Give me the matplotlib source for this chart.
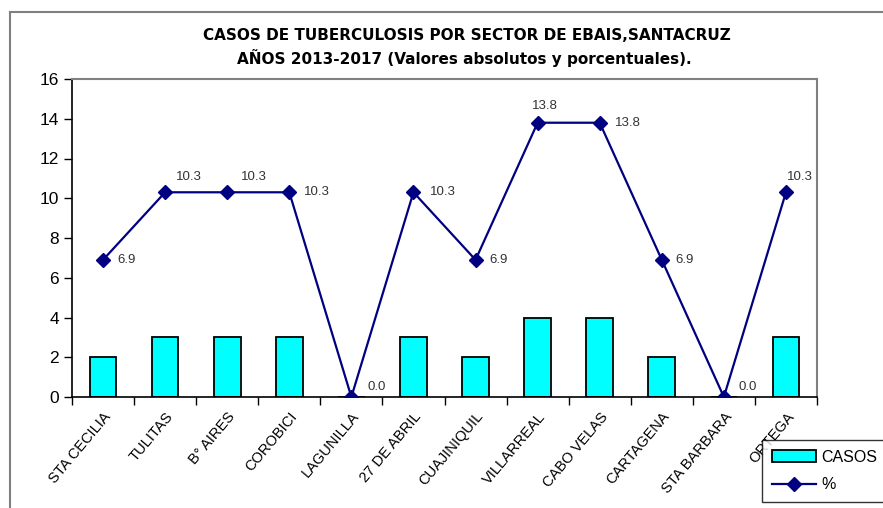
import matplotlib
matplotlib.use("Agg")
import matplotlib.pyplot as plt
from matplotlib.lines import Line2D
from matplotlib.patches import Patch
import numpy as np

plt.rcParams['font.family'] = ['Liberation Sans', 'DejaVu Sans']

# casos de tuberculosis por sector de EBAIS, Santa Cruz 2013-2017
sectores = ["STA CECILIA", "TULITAS", "B° AIRES", "COROBICI", "LAGUNILLA",
            "27 DE ABRIL", "CUAJINIQUIL", "VILLARREAL", "CABO VELAS",
            "CARTAGENA", "STA BARBARA", "ORTEGA"]
casos = [2, 3, 3, 3, 0, 3, 2, 4, 4, 2, 0, 3]
porcentaje = [6.9, 10.3, 10.3, 10.3, 0.0, 10.3, 6.9, 13.8, 13.8, 6.9, 0.0, 10.3]

# where each % label sits relative to its marker (pixels)
label_offsets = [(14, 0), (11, 15), (14, 15), (15, 0), (16, 10), (16, 0),
                 (14, 0), (-6, 17), (15, 0), (14, 0), (15, 10), (1, 15)]

fig = plt.figure(figsize=(8.83, 5.08), dpi=100)
ax = fig.add_axes([72/883, 1-397/508, (817-72)/883, (397-79)/508])

x = np.arange(len(sectores))
bars = ax.bar(x, casos, width=0.43, color="#00FFFF", edgecolor="black",
              linewidth=1.3, zorder=2)
line, = ax.plot(x, porcentaje, color="#000080", linewidth=1.6, marker="D",
                markersize=7, zorder=3)

for xi, val, (dx, dy) in zip(x, porcentaje, label_offsets):
    ax.annotate(f"{val:.1f}", (xi, val), xytext=(dx, dy),
                textcoords="offset pixels", ha="left", va="center",
                fontsize=9.5, color="#333333")

ax.set_xlim(-0.5, len(sectores) - 0.5)
ax.set_ylim(0, 16)
ax.set_yticks(np.arange(0, 17, 2))
ax.tick_params(axis="y", labelsize=12.5, length=6, width=1, direction="out")

# category ticks on the boundaries, names rotated beneath
ax.set_xticks(np.arange(-0.5, len(sectores) + 0.5, 1))
ax.set_xticklabels([])
ax.tick_params(axis="x", length=6, width=1, direction="out")
ax.set_xticks(x, minor=True)
ax.set_xticklabels(sectores, minor=True, rotation=50, ha="right",
                   rotation_mode="anchor", fontsize=10.5)
ax.tick_params(axis="x", which="minor", length=0, pad=9)

for side in ["top", "right"]:
    ax.spines[side].set_color("#808080")
    ax.spines[side].set_linewidth(1.5)
for side in ["left", "bottom"]:
    ax.spines[side].set_color("black")
    ax.spines[side].set_linewidth(1.2)

fig.text(467/883, 1-36/508,
         "CASOS DE TUBERCULOSIS POR SECTOR DE EBAIS,SANTACRUZ",
         ha="center", va="center", fontsize=11, fontweight="bold",
         family="DejaVu Sans")
fig.text(464/883, 1-58/508,
         "AÑOS 2013-2017 (Valores absolutos y porcentuales).",
         ha="center", va="center", fontsize=11, fontweight="bold",
         family="DejaVu Sans")

# outer chart frame
fig.add_artist(Line2D([10/883, 10/883], [0, 1-12/508],
                      transform=fig.transFigure, color="#808080", lw=1.5))
fig.add_artist(Line2D([10/883, 1], [1-12/508, 1-12/508],
                      transform=fig.transFigure, color="#808080", lw=1.5))

handles = [Patch(facecolor="#00FFFF", edgecolor="black", linewidth=1.3),
           Line2D([], [], color="#000080", marker="D", markersize=7, lw=1.6)]
leg = fig.legend(handles, ["CASOS", "%"], loc="lower left",
                 bbox_to_anchor=(762/883, 6/508), borderaxespad=0,
                 frameon=True, fancybox=False, fontsize=11.5,
                 handlelength=2.8, borderpad=0.6, labelspacing=0.8,
                 handletextpad=0.3)
leg.get_frame().set_edgecolor("black")
leg.get_frame().set_linewidth(1)

fig.savefig("out.png", dpi=100)
